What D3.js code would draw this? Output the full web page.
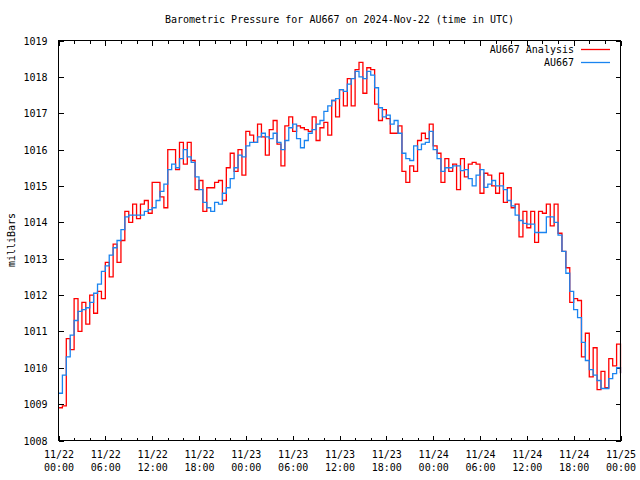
<!DOCTYPE html>
<html>
<head>
<meta charset="utf-8">
<script src="https://cdn.jsdelivr.net/npm/d3@7"></script>
<style>
  html, body { margin: 0; padding: 0; background: #fff; }
  svg { display: block; }
  text { font-family: "DejaVu Sans Mono", monospace; font-size: 10px; fill: #000; }
</style>
</head>
<body>
<svg id="chart" width="640" height="480"></svg>
<script>
// ---- data (30-minute samples starting 2024-11-22 00:00 UTC) ----
const startTime = Date.UTC(2024, 10, 22, 0, 0);
const stepMinutes = 30;

const analysisValues = [
  1008.9, 1008.95, 1010.8, 1010.5, 1011.9, 1011.0, 1011.8, 1011.2, 1012.0, 1011.5,
  1012.1, 1011.9, 1012.9, 1012.5, 1013.4, 1012.9, 1013.5, 1014.3, 1014.0, 1014.5,
  1014.1, 1014.5, 1014.6, 1014.25, 1015.1, 1015.1, 1014.7, 1014.4, 1016.0, 1016.0,
  1015.45, 1016.2, 1015.6, 1016.2, 1015.7, 1014.9, 1015.15, 1014.3, 1014.95, 1014.95,
  1015.1, 1015.15, 1014.6, 1015.5, 1015.9, 1015.4, 1016.0, 1015.3, 1016.5, 1016.4,
  1016.2, 1016.7, 1016.35, 1015.85, 1016.55, 1016.8, 1016.15, 1015.55, 1016.65, 1016.9,
  1016.5, 1016.65, 1016.6, 1016.55, 1016.5, 1016.9, 1016.25, 1016.6, 1016.75, 1016.4,
  1017.35, 1016.9, 1017.65, 1017.2, 1017.95, 1017.2, 1018.2, 1018.4, 1017.55, 1018.25,
  1018.2, 1017.25, 1016.8, 1017.1, 1016.85, 1016.45, 1016.45, 1016.65, 1015.4, 1015.1,
  1015.55, 1015.4, 1016.25, 1016.45, 1016.3, 1016.7, 1016.1, 1015.9, 1015.1, 1015.75,
  1015.4, 1015.6, 1014.9, 1015.75, 1015.25, 1015.6, 1015.65, 1015.6, 1014.8, 1015.35,
  1015.3, 1015.0, 1014.8, 1015.35, 1014.55, 1014.95, 1014.4, 1014.5, 1013.6, 1014.3,
  1013.85, 1014.3, 1013.45, 1014.3, 1014.25, 1014.5, 1013.9, 1014.5, 1013.7, 1013.2,
  1012.75, 1011.8, 1011.9, 1011.85, 1010.3, 1010.95, 1009.75, 1010.55, 1009.4, 1009.9,
  1009.45, 1010.25, 1010.05, 1010.65, 1009.85
];

const stationValues = [
  1009.3, 1009.8, 1010.3, 1010.9, 1011.3, 1011.55, 1011.6, 1011.65, 1011.8, 1012.05,
  1012.3, 1012.65, 1012.8, 1013.1, 1013.3, 1013.5, 1013.8, 1014.15, 1014.2, 1014.2,
  1014.2, 1014.2, 1014.3, 1014.35, 1014.4, 1014.6, 1014.85, 1015.05, 1015.45, 1015.6,
  1015.5, 1015.75, 1016.0, 1015.8, 1015.65, 1015.25, 1014.9, 1014.55, 1014.4, 1014.3,
  1014.55, 1014.5, 1014.8, 1014.95, 1015.2, 1015.5, 1015.85, 1015.8, 1016.1, 1016.2,
  1016.2, 1016.35, 1016.45, 1016.35, 1016.3, 1016.45, 1016.2, 1016.0, 1016.25, 1016.6,
  1016.7, 1016.3, 1016.05, 1016.25, 1016.45, 1016.55, 1016.7, 1016.8, 1017.05, 1017.2,
  1017.35, 1017.4, 1017.65, 1017.6, 1017.8, 1017.95, 1018.15, 1018.0, 1017.95, 1018.15,
  1018.05, 1017.7, 1017.15, 1016.9, 1016.95, 1016.7, 1016.8, 1016.45, 1015.9, 1015.75,
  1015.7, 1016.1, 1016.0, 1016.15, 1016.2, 1016.5, 1016.0, 1015.75, 1015.4, 1015.5,
  1015.5, 1015.55, 1015.55, 1015.42, 1015.45, 1015.2, 1015.0, 1015.3, 1015.45, 1014.96,
  1015.05, 1015.15, 1015.0, 1015.0, 1014.9, 1014.6, 1014.45, 1014.2, 1014.05, 1013.97,
  1013.95, 1013.95, 1013.72, 1013.72, 1013.72, 1014.15, 1014.15, 1014.0, 1013.65, 1013.2,
  1012.6, 1012.1, 1011.6, 1011.38, 1010.7, 1010.2, 1009.95, 1009.8, 1009.65, 1009.43,
  1009.43, 1009.7, 1009.84, 1010.0, 1009.85
];

const seriesNames = ["AU667 Analysis", "AU667"];
const seriesColors = ["#ff0000", "#1a84f0"];
const yTickValues = [1008, 1009, 1010, 1011, 1012, 1013, 1014, 1015, 1016, 1017, 1018, 1019];
const xTickLabels = [
  ["11/22", "00:00"], ["11/22", "06:00"], ["11/22", "12:00"], ["11/22", "18:00"],
  ["11/23", "00:00"], ["11/23", "06:00"], ["11/23", "12:00"], ["11/23", "18:00"],
  ["11/24", "00:00"], ["11/24", "06:00"], ["11/24", "12:00"], ["11/24", "18:00"],
  ["11/25", "00:00"]
];
const titleText = "Barometric Pressure for AU667 on 2024-Nov-22 (time in UTC)";
const yLabelText = "milliBars";

// ---- layout ----
const L = 58.5, R = 620.5, T = 40.5, B = 440.5;
const svg = d3.select("#chart");

const x = d3.scaleUtc()
  .domain([new Date(startTime), new Date(startTime + 72 * 3600e3)])
  .range([L, R]);
const y = d3.scaleLinear().domain([1008, 1019]).range([B, T]);

const timeOf = i => new Date(startTime + i * stepMinutes * 60e3);
const seriesData = [analysisValues, stationValues].map(vals =>
  vals.map((v, i) => ({ t: timeOf(i), v })));

const majorTimes = xTickLabels.map((_, i) => new Date(startTime + i * 6 * 3600e3));
const minorTimes = d3.range(0, 73, 2).filter(h => h % 6 !== 0)
  .map(h => new Date(startTime + h * 3600e3));

// ---- axes (ticks inward, mirrored) ----
function styleAxis(g) {
  g.select(".domain").remove();
  g.selectAll(".tick line").attr("stroke", "#000").attr("shape-rendering", "crispEdges");
}

// bottom major
const gB = svg.append("g").attr("transform", `translate(0,${B})`)
  .call(d3.axisBottom(x).tickValues(majorTimes).tickSizeInner(-5).tickSizeOuter(0).tickPadding(0).tickFormat(() => ""))
  .call(styleAxis);
gB.selectAll(".tick text").remove();
gB.selectAll(".tick").append("text")
  .attr("text-anchor", "middle")
  .each(function (d, i) {
    const t = d3.select(this);
    t.append("tspan").attr("x", 0).attr("y", 17).text(xTickLabels[i][0]);
    t.append("tspan").attr("x", 0).attr("y", 30).text(xTickLabels[i][1]);
  });
// bottom minor
svg.append("g").attr("transform", `translate(0,${B})`)
  .call(d3.axisBottom(x).tickValues(minorTimes).tickSizeInner(-3).tickSizeOuter(0).tickFormat(() => ""))
  .call(styleAxis);
// top mirror
svg.append("g").attr("transform", `translate(0,${T})`)
  .call(d3.axisTop(x).tickValues(majorTimes).tickSizeInner(-5).tickSizeOuter(0).tickFormat(() => ""))
  .call(styleAxis);
svg.append("g").attr("transform", `translate(0,${T})`)
  .call(d3.axisTop(x).tickValues(minorTimes).tickSizeInner(-3).tickSizeOuter(0).tickFormat(() => ""))
  .call(styleAxis);
// left
const gL = svg.append("g").attr("transform", `translate(${L},0)`)
  .call(d3.axisLeft(y).tickValues(yTickValues).tickSizeInner(-5).tickSizeOuter(0).tickPadding(11).tickFormat(d3.format("d")))
  .call(styleAxis);
gL.selectAll(".tick text").attr("font-family", null).attr("font-size", null).attr("dy", "0.35em");
// right mirror
svg.append("g").attr("transform", `translate(${R},0)`)
  .call(d3.axisRight(y).tickValues(yTickValues).tickSizeInner(-5).tickSizeOuter(0).tickFormat(() => ""))
  .call(styleAxis);

// ---- lines ----
const line = d3.line()
  .x(d => x(d.t))
  .y(d => y(d.v))
  .curve(d3.curveStepAfter);

svg.append("g").selectAll("path.series")
  .data(seriesData)
  .join("path")
  .attr("class", "series")
  .attr("fill", "none")
  .attr("stroke", (d, i) => seriesColors[i])
  .attr("stroke-width", 1.3)
  .attr("d", line);

// ---- frame ----
svg.append("rect")
  .attr("x", L).attr("y", T).attr("width", R - L).attr("height", B - T)
  .attr("fill", "none").attr("stroke", "#000").attr("stroke-width", 1)
  .attr("shape-rendering", "crispEdges");

// ---- title & labels ----
svg.append("text")
  .attr("x", (L + R) / 2).attr("y", 23)
  .attr("text-anchor", "middle")
  .text(titleText);

svg.append("text")
  .attr("transform", `translate(15,240) rotate(-90)`)
  .attr("text-anchor", "middle")
  .text(yLabelText);

// ---- legend ----
const legend = svg.append("g");
seriesNames.forEach((name, i) => {
  const ly = 49 + i * 13;
  legend.append("text")
    .attr("x", 574).attr("y", ly).attr("dy", "0.35em")
    .attr("text-anchor", "end")
    .text(name);
  legend.append("line")
    .attr("x1", 581).attr("x2", 610)
    .attr("y1", ly + 0.5).attr("y2", ly + 0.5)
    .attr("stroke", seriesColors[i]).attr("stroke-width", 1.3);
});
</script>
</body>
</html>
